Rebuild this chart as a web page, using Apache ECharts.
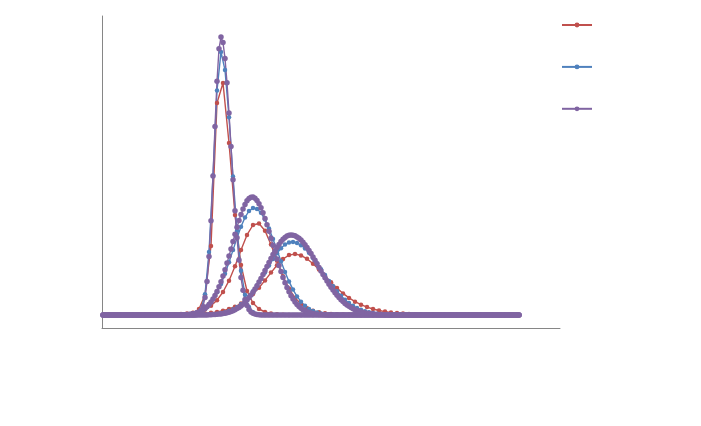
<!DOCTYPE html>
<html>
<head>
<meta charset="utf-8">
<script src="https://cdn.jsdelivr.net/npm/echarts@6/dist/echarts.min.js"></script>
<style>html,body{margin:0;padding:0;background:#fff;}#c{width:701px;height:426px;}</style>
</head>
<body>
<div id="c"></div>
<script>
// grid of sample positions (index along the horizontal value axis)
const X_COUNT = 209;

// Series names (legend shows no text in the reference)
const seriesNames = ['Series 1', 'Series 2', 'Series 3'];
const seriesColors = ['#C0504D', '#4F81BD', '#8064A2'];

// Red series (sampled every 3rd index)
const redNarrowStart = 42;
const redNarrow = [0.5,2,6,20,69,212,232,172,100,50,24,12,6,3,1.5,0.7,0.3];
const redMediumStart = 33;
const redMedium = [0.36,0.56,0.89,1.41,2.25,3.63,5.84,9.37,14.8,23.0,34.3,48.8,65.1,80.1,90.0,91.5,84.2,70.4,54.2,38.8,26.4,17.2,10.9,6.8,4.25,2.64,1.65,1.03,0.66,0.42,0.27,0.18];
const redWideStart = 39;
const redWide = [0.41,0.57,0.79,1.10,1.55,2.17,3.06,4.29,6.01,8.36,11.5,15.7,21.0,27.3,34.6,42.4,49.8,56.0,59.9,61.0,59.6,56.2,51.3,45.4,39.1,32.8,26.9,21.6,17.1,13.3,10.3,7.9,6.0,4.5,3.4,2.6,2.0,1.5,1.1,0.85,0.65,0.5,0.4,0.3,0.2];

// Blue series (sampled every 2nd index)
const blueNarrowStart = 45;
const blueNarrow = [0.1,0.9,5.0,20.7,63.0,139.4,224.4,263,244.9,197.8,138.6,84.2,44.3,20.3,8.0,2.8,0.8,0.2];
const blueMediumStart = 37;
const blueMedium = [0.1,0.2,0.5,0.9,1.6,2.7,4.4,7.0,10.8,15.9,22.7,31.1,41.2,52.7,64.9,77.1,88.3,97.6,104.0,106.9,106.1,102.2,95.4,86.5,76.1,64.9,53.7,43.1,33.6,25.4,18.6,13.3,9.2,6.1,4.0,2.5,1.5,0.9,0.5,0.3,0.2,0.1];
const blueWideStart = 47;
const blueWide = [0.1,0.2,0.3,0.45,0.7,1.1,1.8,2.6,3.9,5.6,7.8,10.7,14.3,18.6,23.7,29.5,35.9,42.6,49.4,55.9,61.8,66.8,70.4,72.5,73.0,72.0,69.8,66.5,62.2,57.1,51.6,45.8,39.9,34.1,28.7,23.7,19.2,15.3,12.0,9.2,7.0,5.2,3.8,2.7,1.9,1.3,0.9,0.6,0.4,0.25,0.15,0.1];

// Purple series (sampled at every index)
const purpleNarrowStart = 47;
const purpleNarrow = [0.5,1.5,3.7,8.4,17.5,33.4,58.6,94.3,139.1,188.4,233.8,266.2,278,272.5,256.6,232.2,201.9,168.6,135.3,104.3,77.3,55.0,37.6,24.7,15.6,9.5,5.5,3.1,1.7,0.9,0.4,0.2];
const purpleMediumStart = 39;
const purpleMedium = [0.1,0.2,0.3,0.4,0.6,0.9,1.2,1.6,2.2,2.9,3.9,5.0,6.5,8.2,10.4,12.9,16.0,19.5,23.6,28.2,33.3,39.0,45.2,51.9,58.9,66.1,73.4,80.7,87.8,94.5,100.6,106.1,110.6,114.2,116.6,117.8,117.9,116.7,114.5,111.3,107.2,102.2,96.5,90.3,83.7,76.8,69.8,62.9,56.1,49.6,43.4,37.6,32.3,27.5,23.2,19.3,16.0,13.1,10.6,8.5,6.8,5.3,4.2,3.2,2.5,1.9,1.4,1.1,0.8,0.6,0.4,0.3,0.2,0.1];
const purpleWideStart = 52;
const purpleWide = [0.1,0.2,0.3,0.4,0.5,0.7,0.9,1.1,1.4,1.8,2.3,2.8,3.5,4.3,5.3,6.4,7.6,9.1,10.8,12.7,14.9,17.3,20.0,22.8,26.0,29.3,32.9,36.6,40.5,44.5,48.5,52.6,56.5,60.4,64.1,67.5,70.6,73.4,75.7,77.5,78.9,79.7,80,79.8,79.2,78.1,76.7,74.9,72.7,70.3,67.5,64.6,61.4,58.1,54.7,51.2,47.6,44.1,40.6,37.3,34.0,30.8,27.8,24.9,22.2,19.7,17.4,15.3,13.4,11.6,10.1,8.7,7.4,6.3,5.3,4.5,3.8,3.1,2.6,2.1,1.8,1.4,1.2,0.9,0.8,0.6,0.5,0.4,0.3,0.2,0.2,0.1];

function build(start, step, phase, values) {
  const data = [];
  for (let i = phase; i < X_COUNT; i += step) {
    const k = (i - start) / step;
    const v = (k >= 0 && k < values.length) ? values[k] : 0;
    data.push([i, v]);
  }
  return data;
}

const curves = [
  {g: 0, d: build(redNarrowStart, 3, 0, redNarrow)},
  {g: 0, d: build(redMediumStart, 3, 0, redMedium)},
  {g: 0, d: build(redWideStart, 3, 0, redWide)},
  {g: 1, d: build(blueNarrowStart, 2, 1, blueNarrow)},
  {g: 1, d: build(blueMediumStart, 2, 1, blueMedium)},
  {g: 1, d: build(blueWideStart, 2, 1, blueWide)},
  {g: 2, d: build(purpleNarrowStart, 1, 0, purpleNarrow)},
  {g: 2, d: build(purpleMediumStart, 1, 0, purpleMedium)},
  {g: 2, d: build(purpleWideStart, 1, 0, purpleWide)}
];

const symbolSizes = [4.5, 4.5, 5.5];
const series = curves.map(c => ({
  name: seriesNames[c.g],
  type: 'line',
  data: c.d,
  symbol: 'circle',
  symbolSize: symbolSizes[c.g],
  showSymbol: true,
  color: seriesColors[c.g],
  itemStyle: {color: seriesColors[c.g]},
  lineStyle: {color: seriesColors[c.g], width: 1.4},
  emphasis: {disabled: true},
  animation: false
}));

const axisColor = '#868686';
const chart = echarts.init(document.getElementById('c'), null, {renderer: 'canvas'});
chart.setOption({
  backgroundColor: '#ffffff',
  animation: false,
  grid: {left: 102, right: 141, top: 16, bottom: 98, containLabel: false},
  legend: {
    show: true,
    orient: 'vertical',
    left: 556,
    top: 17,
    itemWidth: 30,
    itemHeight: 6,
    itemGap: 36.5,
    data: seriesNames,
    formatter: () => '',
    textStyle: {fontSize: 1}
  },
  xAxis: {
    type: 'value', min: -0.5, max: 228.5,
    axisLine: {show: true, onZero: false, lineStyle: {color: axisColor, width: 1}},
    axisTick: {show: false}, axisLabel: {show: false}, splitLine: {show: false}
  },
  yAxis: {
    type: 'value', min: -13, max: 299,
    axisLine: {show: true, onZero: false, lineStyle: {color: axisColor, width: 1}},
    axisTick: {show: false}, axisLabel: {show: false}, splitLine: {show: false}
  },
  series: series
});
</script>
</body>
</html>
